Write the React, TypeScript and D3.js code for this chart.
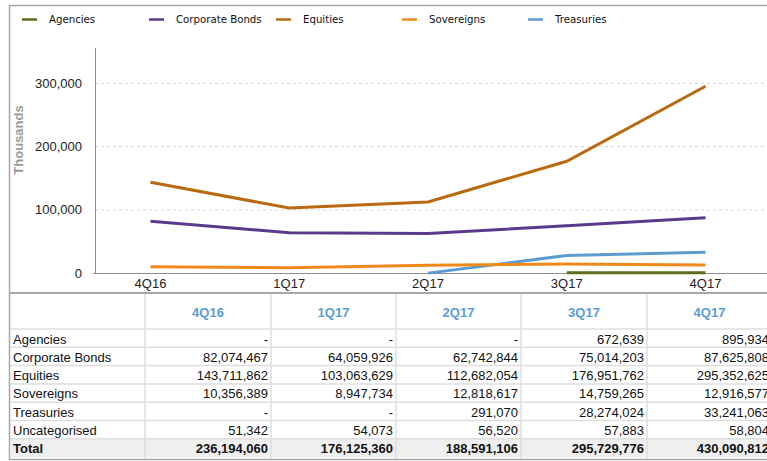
import React from "react";
import * as d3 from "d3";

const quarters = ["4Q16", "1Q17", "2Q17", "3Q17", "4Q17"];
const agencies = [null, null, null, 672639, 895934];
const corporateBonds = [82074467, 64059926, 62742844, 75014203, 87625808];
const equities = [143711862, 103063629, 112682054, 176951762, 295352625];
const sovereigns = [10356389, 8947734, 12818617, 14759265, 12916577];
const treasuries = [null, null, 291070, 28274024, 33241063];
const uncategorised = [51342, 54073, 56520, 57883, 58804];
const totals = [236194060, 176125360, 188591106, 295729776, 430090812];
const yTicks = [0, 100000, 200000, 300000];

const series = [
  { name: "Agencies", values: agencies, color: "#5b6e1c" },
  { name: "Corporate Bonds", values: corporateBonds, color: "#5b3a8c" },
  { name: "Equities", values: equities, color: "#b9690f" },
  { name: "Sovereigns", values: sovereigns, color: "#f0891c" },
  { name: "Treasuries", values: treasuries, color: "#5a9bd2" },
];

const tableRows = [
  { name: "Agencies", values: agencies },
  { name: "Corporate Bonds", values: corporateBonds },
  { name: "Equities", values: equities },
  { name: "Sovereigns", values: sovereigns },
  { name: "Treasuries", values: treasuries },
  { name: "Uncategorised", values: uncategorised },
];

export default function App() {
  const W = 767, H = 461;
  const axisLeft = 95, axisRight = 761;
  const x = d3.scalePoint<string>().domain(quarters).range([axisLeft, axisRight]).padding(0.4);
  const y = d3.scaleLinear().domain([0, 300000]).range([273.3, 83.3]);
  const fmt = d3.format(",");
  const font = "Arial, 'Liberation Sans', sans-serif";

  const line = d3
    .line<[string, number | null]>()
    .defined((d) => d[1] !== null)
    .x((d) => x(d[0]) as number)
    .y((d) => y((d[1] as number) / 1000));

  const legendX = [22, 149, 276, 402, 528];
  const colEdges = [9, 145, 271, 396, 521, 647, 772];
  const headerBottom = 329, rowH = 18.3;

  return (
    <svg width={W} height={H} style={{ position: "absolute", left: 0, top: 0, background: "#fff" }} fontFamily={font}>
      <rect x={0} y={0} width={W} height={H} fill="#fff" />
      {/* frame */}
      <line x1={9} x2={W} y1={5.5} y2={5.5} stroke="#a6a6a6" strokeWidth={1.5} />
      <line x1={9.5} x2={9.5} y1={5} y2={460} stroke="#a6a6a6" strokeWidth={1.5} />
      {/* legend */}
      {series.map((s, i) => (
        <g key={s.name}>
          <line x1={legendX[i]} x2={legendX[i] + 15} y1={19.5} y2={19.5} stroke={s.color} strokeWidth={2.5} />
          <text x={legendX[i] + 27} y={23} fontSize={10.2} fill="#111" fontFamily="Tahoma, 'DejaVu Sans', sans-serif">
            {s.name}
          </text>
        </g>
      ))}
      {/* grid */}
      {yTicks.map((t) => (
        <g key={t}>
          {t > 0 && (
            <line x1={axisLeft} x2={765} y1={y(t)} y2={y(t)} stroke="#d4d4d4" strokeDasharray="3,3" />
          )}
          <text x={82} y={y(t) + 4.5} textAnchor="end" fontSize={13} fill="#222">
            {fmt(t)}
          </text>
        </g>
      ))}
      <text
        transform={`translate(23,140) rotate(-90)`}
        textAnchor="middle"
        fontSize={13}
        fontWeight="bold"
        fill="#9a9a9a"
      >
        Thousands
      </text>
      <line x1={axisLeft + 0.5} x2={axisLeft + 0.5} y1={48} y2={273.5} stroke="#8c8c8c" />
      <line x1={93} x2={W} y1={273.5} y2={273.5} stroke="#8c8c8c" />
      {quarters.map((q) => (
        <text key={q} x={x(q)} y={288} textAnchor="middle" fontSize={13} fill="#222">
          {q}
        </text>
      ))}
      {/* lines */}
      {[...series].reverse().map((s) => (
        <path
          key={s.name}
          d={line(quarters.map((q, i) => [q, s.values[i]] as [string, number | null])) || ""}
          fill="none"
          stroke={s.color}
          strokeWidth={3}
        />
      ))}
      {/* table */}
      <line x1={9} x2={W} y1={293} y2={293} stroke="#a6a6a6" strokeWidth={2} />
      <rect x={10} y={headerBottom + rowH * 6} width={W} height={rowH} fill="#efefef" />
      {d3.range(7).map((r) => (
        <line
          key={r}
          x1={10}
          x2={W}
          y1={headerBottom + rowH * r}
          y2={headerBottom + rowH * r}
          stroke="#dedede"
          strokeWidth={1.5}
        />
      ))}
      {colEdges.slice(1, 6).map((c) => (
        <line key={c} x1={c} x2={c} y1={294} y2={459} stroke="#dedede" strokeWidth={1.5} />
      ))}
      {quarters.map((q, i) => (
        <text
          key={q}
          x={(colEdges[i + 1] + colEdges[i + 2]) / 2}
          y={316.5}
          textAnchor="middle"
          fontSize={13}
          fontWeight="bold"
          fill="#5b9bd5"
        >
          {q}
        </text>
      ))}
      {tableRows.map((row, r) => (
        <g key={row.name}>
          <text x={13} y={headerBottom + rowH * r + 14.5} fontSize={13} fill="#111">
            {row.name}
          </text>
          {row.values.map((v, i) => (
            <text
              key={i}
              x={colEdges[i + 2] - 3}
              y={headerBottom + rowH * r + 14.5}
              textAnchor="end"
              fontSize={13}
              fill="#111"
            >
              {v === null ? "-" : fmt(v)}
            </text>
          ))}
        </g>
      ))}
      <text x={13} y={headerBottom + rowH * 6 + 14.5} fontSize={13} fontWeight="bold" fill="#111">
        Total
      </text>
      {totals.map((v, i) => (
        <text
          key={i}
          x={colEdges[i + 2] - 3}
          y={headerBottom + rowH * 6 + 14.5}
          textAnchor="end"
          fontSize={13}
          fontWeight="bold"
          fill="#111"
        >
          {fmt(v)}
        </text>
      ))}
      <line x1={9} x2={W} y1={459.5} y2={459.5} stroke="#a6a6a6" strokeWidth={1.5} />
    </svg>
  );
}
